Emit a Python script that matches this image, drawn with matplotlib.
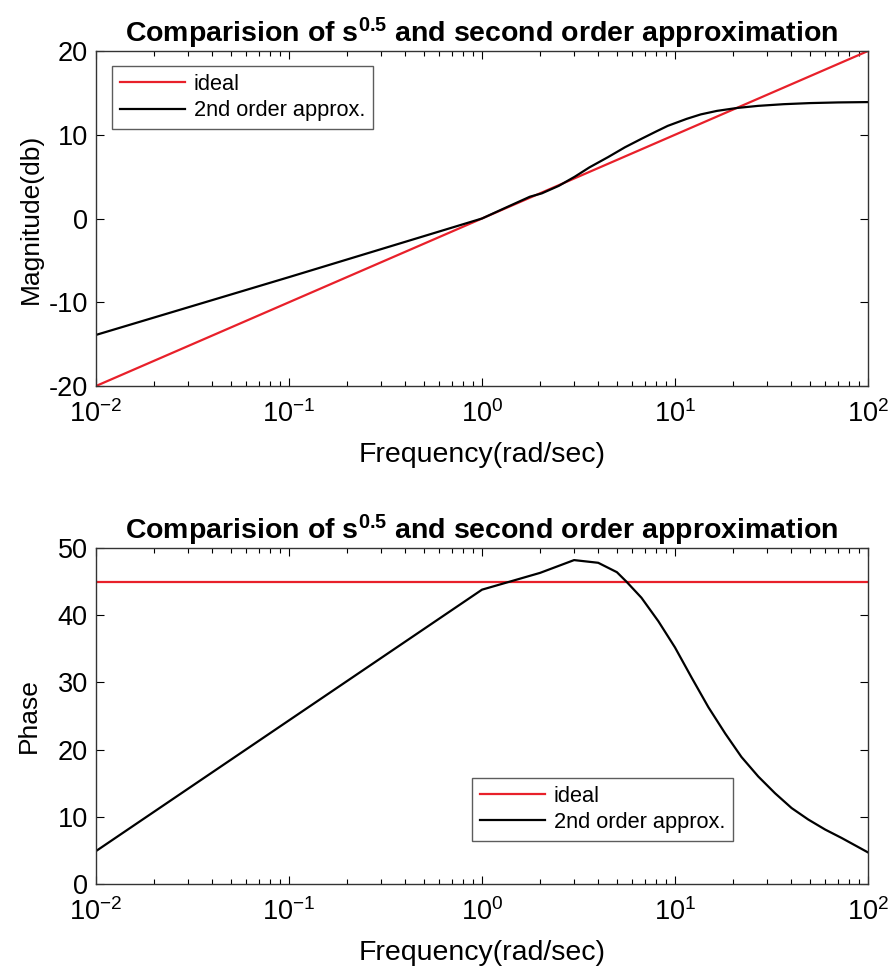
import matplotlib
matplotlib.use("Agg")
import matplotlib.pyplot as plt
from matplotlib.ticker import LogLocator, NullFormatter

plt.rcParams['font.family'] = ['Liberation Sans', 'DejaVu Sans']
plt.rcParams['mathtext.fontset'] = 'custom'
plt.rcParams['mathtext.rm'] = 'Liberation Sans'
plt.rcParams['mathtext.it'] = 'Liberation Sans:italic'
plt.rcParams['mathtext.bf'] = 'Liberation Sans:bold'
plt.rcParams['axes.unicode_minus'] = False

# ---- data ----
ideal_w = [0.01, 100]
ideal_mag = [-20, 20]          # dB
ideal_phase = [45, 45]         # deg

mag_w = [0.01, 0.1, 1.0, 1.3, 1.77, 2.04, 2.5, 3.03, 3.6, 4.5, 5.5, 6.68, 8.0, 9.17,
         11.5, 13.6, 16.5, 21.0, 27.0, 36.6, 50.0, 70.0, 100.0]
mag_approx = [-13.9, -7.0, 0.0, 1.2, 2.6, 3.0, 3.9, 5.0, 6.1, 7.33, 8.5, 9.5, 10.4, 11.06,
              11.9, 12.43, 12.85, 13.2, 13.45, 13.65, 13.78, 13.86, 13.9]

ph_w = [0.01, 1.0, 2.0, 3.0, 4.0, 5.0, 5.6, 6.7, 8.2, 10.0, 12.2, 14.9, 18.2, 22.1,
        27.0, 33.0, 40.2, 49.0, 60.0, 73.0, 100.0]
ph_approx = [4.9, 43.8, 46.3, 48.2, 47.8, 46.4, 45.0, 42.6, 39.1, 35.2, 30.7, 26.3, 22.4,
             18.9, 16.0, 13.5, 11.3, 9.6, 8.1, 6.85, 4.7]

title = r'Comparision of s$^{\mathbf{0.5}}$ and second order approximation'
red = '#e8202a'

fig = plt.figure(figsize=(8.96, 9.80), dpi=100)
ax1 = fig.add_axes([96/896, 1-386/980, 772/896, 335/980])
ax2 = fig.add_axes([96/896, 1-884/980, 772/896, 336/980])

def style(ax):
    ax.set_xscale('log')
    ax.set_xlim(0.01, 100)
    ax.xaxis.set_major_locator(LogLocator(base=10, numticks=10))
    ax.xaxis.set_minor_locator(LogLocator(base=10, subs=range(2, 10), numticks=20))
    ax.xaxis.set_minor_formatter(NullFormatter())
    ax.tick_params(which='both', direction='in', top=True, right=True)
    ax.tick_params(axis='x', labelsize=19.5, pad=10)
    ax.tick_params(axis='y', labelsize=19.5, pad=6)
    ax.tick_params(which='major', length=6, width=0.8)
    ax.tick_params(which='minor', length=3.5, width=0.8)
    for s in ax.spines.values():
        s.set_linewidth(1.0)
        s.set_color('#333333')
    ax.set_xlabel('Frequency(rad/sec)', fontsize=20.5, labelpad=10)
    ax.set_title(title, fontsize=20.5, fontweight='bold', pad=5)

ax1.plot(ideal_w, ideal_mag, color=red, lw=1.6, label='ideal')
ax1.plot(mag_w, mag_approx, color='black', lw=1.6, label='2nd order approx.')
style(ax1)
ax1.set_ylim(-20, 20)
ax1.set_yticks([-20, -10, 0, 10, 20])
ax1.set_ylabel('Magnitude(db)', fontsize=19, labelpad=4)
leg1 = ax1.legend(loc='upper left', bbox_to_anchor=(0.0207, 0.955), borderaxespad=0,
                  fontsize=15.7, frameon=True, fancybox=False, edgecolor='#333333',
                  handlelength=3.0, borderpad=0.35, labelspacing=0.25, handletextpad=0.4)
leg1.get_frame().set_linewidth(1.0)

ax2.plot(ideal_w, ideal_phase, color=red, lw=1.6, label='ideal')
ax2.plot(ph_w, ph_approx, color='black', lw=1.6, label='2nd order approx.')
style(ax2)
ax2.set_ylim(0, 50)
ax2.set_yticks([0, 10, 20, 30, 40, 50])
ax2.set_ylabel('Phase', fontsize=19, labelpad=12)
leg2 = ax2.legend(loc='upper left', bbox_to_anchor=(0.487, 0.3155), borderaxespad=0,
                  fontsize=15.7, frameon=True, fancybox=False, edgecolor='#333333',
                  handlelength=3.0, borderpad=0.35, labelspacing=0.25, handletextpad=0.4)
leg2.get_frame().set_linewidth(1.0)

fig.savefig('out.png', dpi=100)
